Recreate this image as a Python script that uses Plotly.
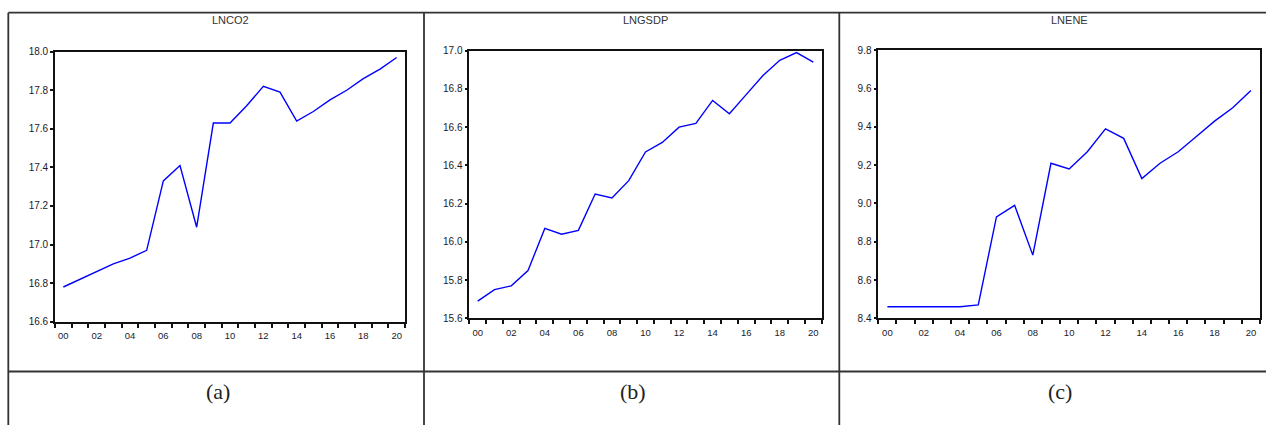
import plotly.graph_objects as go

W, H = 1266, 425

years = list(range(2000, 2021))
year_ticks = list(range(2000, 2021, 2))
year_tick_text = ["00", "02", "04", "06", "08", "10", "12", "14", "16", "18", "20"]

lnco2 = [16.78, 16.82, 16.86, 16.90, 16.93, 16.97, 17.33, 17.41, 17.09, 17.63, 17.63,
         17.72, 17.82, 17.79, 17.64, 17.69, 17.75, 17.80, 17.86, 17.91, 17.97]
lngsdp = [15.69, 15.75, 15.77, 15.85, 16.07, 16.04, 16.06, 16.25, 16.23, 16.32, 16.47,
          16.52, 16.60, 16.62, 16.74, 16.67, 16.77, 16.87, 16.95, 16.99, 16.94]
lnene = [8.46, 8.46, 8.46, 8.46, 8.46, 8.47, 8.93, 8.99, 8.73, 9.21, 9.18,
         9.27, 9.39, 9.34, 9.13, 9.21, 9.27, 9.35, 9.43, 9.50, 9.59]

titles = ["LNCO2", "LNGSDP", "LNENE"]
panel_labels = ["(a)", "(b)", "(c)"]
y_ticks_a = [16.6, 16.8, 17.0, 17.2, 17.4, 17.6, 17.8, 18.0]
y_ticks_b = [15.6, 15.8, 16.0, 16.2, 16.4, 16.6, 16.8, 17.0]
y_ticks_c = [8.4, 8.6, 8.8, 9.0, 9.2, 9.4, 9.6, 9.8]

series = [lnco2, lngsdp, lnene]
yticks = [y_ticks_a, y_ticks_b, y_ticks_c]

# plot frames in pixels: (left, right, top, bottom)
frames = [(55, 405, 51.7, 321.7), (469.3, 821.7, 50.7, 318.3), (878.3, 1260, 50.3, 318.3)]
label_x = [218, 633, 1060]

fig = go.Figure()
layout = dict(
    width=W, height=H, autosize=False,
    margin=dict(l=0, r=0, t=0, b=0, pad=0, autoexpand=False),
    paper_bgcolor="white", plot_bgcolor="white",
    showlegend=False,
    font=dict(family="Liberation Sans, Arial, sans-serif", color="#1a1a2a"),
)

annotations = []
shapes = []
for i in range(3):
    sfx = "" if i == 0 else str(i + 1)
    l, r, t, b = frames[i]
    fig.add_trace(go.Scatter(
        x=years, y=series[i], mode="lines",
        line=dict(color="#0000ff", width=1.4),
        xaxis="x" + sfx, yaxis="y" + sfx, hoverinfo="skip",
    ))
    yt = yticks[i]
    layout["xaxis" + sfx] = dict(
        domain=[l / W, r / W], anchor="y" + sfx,
        range=[1999.5, 2020.5],
        tickmode="array", tickvals=year_ticks, ticktext=year_tick_text,
        ticks="outside", ticklen=4, tickcolor="rgba(0,0,0,0)",
        minor=dict(tickmode="array", tickvals=[1999.5 + k for k in range(22)],
                   ticks="outside", ticklen=4, tickwidth=1.5, tickcolor="#111", showgrid=False),
        showline=True, mirror=True, linecolor="#111", linewidth=1.6,
        showgrid=False, zeroline=False, automargin=False,
        tickfont=dict(size=9.5, color="#1a1a2a"),
    )
    layout["yaxis" + sfx] = dict(
        domain=[1 - b / H, 1 - t / H], anchor="x" + sfx,
        range=[yt[0], yt[-1]],
        tickmode="array", tickvals=yt, ticktext=[f"{v:.1f}" for v in yt],
        ticks="outside", ticklen=3, tickwidth=1.5, tickcolor="#111",
        showline=True, mirror=True, linecolor="#111", linewidth=1.6,
        showgrid=False, zeroline=False, automargin=False,
        tickfont=dict(size=10, color="#1a1a2a"),
    )
    annotations.append(dict(
        text=titles[i], x=(l + r) / 2 / W, y=1 - 20 / H, xref="paper", yref="paper",
        showarrow=False, xanchor="center", yanchor="middle",
        font=dict(size=11, color="#333333", family="Liberation Sans, Arial, sans-serif"),
    ))
    annotations.append(dict(
        text=panel_labels[i], x=label_x[i] / W, y=1 - 391 / H, xref="paper", yref="paper",
        showarrow=False, xanchor="center", yanchor="middle",
        font=dict(size=22, color="#222222", family="Liberation Serif, Times New Roman, serif"),
    ))

# table lines
line_style = dict(color="#333333", width=1.8)
for (x0, y0, x1, y1) in [(8.3, 12.7, 1266, 12.7), (8.3, 371.5, 1266, 371.5),
                         (8.3, 12.7, 8.3, 425), (424, 12.7, 424, 425), (839.3, 12.7, 839.3, 425)]:
    shapes.append(dict(type="line", xref="paper", yref="paper",
                       x0=x0 / W, x1=x1 / W, y0=1 - y0 / H, y1=1 - y1 / H, line=line_style))

layout["annotations"] = annotations
layout["shapes"] = shapes
fig.update_layout(**layout)
fig.write_html("out.html",
               config={"displayModeBar": False, "responsive": False},
               post_script="document.body.style.margin='0';document.body.style.padding='0';"
                           "document.body.style.overflow='hidden';")
